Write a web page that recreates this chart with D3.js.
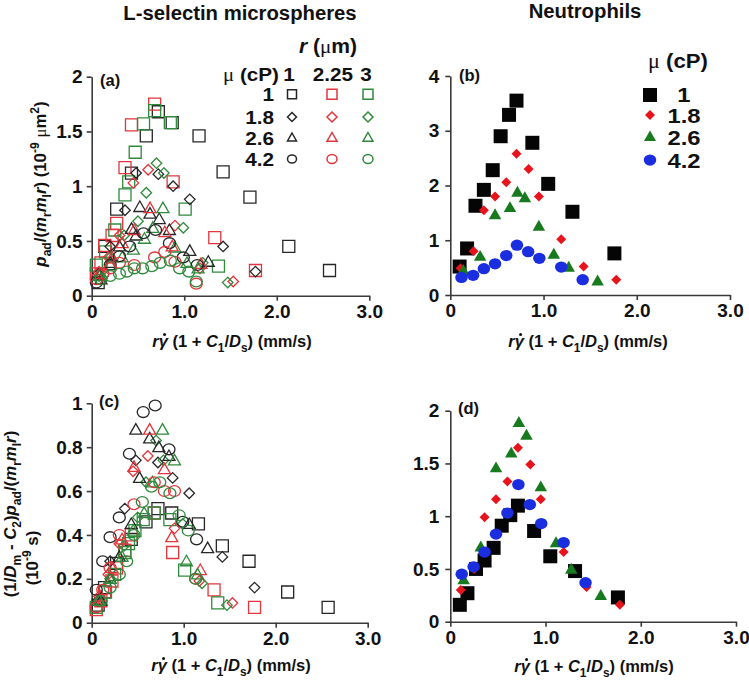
<!DOCTYPE html>
<html><head><meta charset="utf-8">
<script src="https://cdn.jsdelivr.net/npm/d3@7"></script>
<style>
body{margin:0;background:#fff}
text{font-family:"Liberation Sans",Arial,sans-serif;font-weight:bold;fill:#111}
</style>
</head><body>
<svg id="chart" width="749" height="680"></svg>
<script>
// ---------------- DATA ----------------
const xTicks = [0, 1, 2, 3];
const xTickLabels = ["0", "1.0", "2.0", "3.0"];
const ticksA = [0, 0.5, 1, 1.5, 2];
const ticksB = [0, 1, 2, 3, 4];
const ticksC = [0, 0.2, 0.4, 0.6, 0.8, 1];
const ticksD = [0, 0.5, 1, 1.5, 2];
const muLabels = ["1", "1.8", "2.6", "4.2"];
const rLabels = ["1", "2.25", "3"];

// L-selectin microspheres: [x, y in (a), y in (c)]
const ms_mu1_r1 = [[0.07,0.12,0.08],[0.14,0.45,0.16],[0.27,0.79,0.27],[0.43,1.12,0.38],[0.59,1.46,0.46],[0.72,1.68,0.52],[0.87,1.58,0.50],[1.16,1.46,0.45],[1.42,1.13,0.35],[1.71,0.90,0.28],[2.13,0.45,0.14],[2.57,0.23,0.07]];
const ms_mu1_r2 = [[0.05,0.20,0.06],[0.10,0.30,0.10],[0.14,0.46,0.14],[0.22,0.55,0.19],[0.27,0.66,0.25],[0.36,1.17,0.33],[0.43,1.56,0.40],[0.68,1.75,0.50],[0.88,1.04,0.32],[1.33,0.53,0.15],[1.77,0.23,0.07]];
const ms_mu1_r3 = [[0.05,0.28,0.07],[0.15,0.40,0.14],[0.25,0.60,0.22],[0.36,0.92,0.32],[0.40,1.04,0.36],[0.47,1.31,0.42],[0.56,1.57,0.47],[0.68,1.69,0.50],[0.85,1.58,0.47],[1.01,0.79,0.24],[1.37,0.27,0.09]];
const ms_mu18_r1 = [[0.07,0.20,0.10],[0.20,0.45,0.28],[0.36,0.78,0.52],[0.48,1.12,0.74],[0.72,1.11,0.73],[0.88,1.00,0.66],[1.06,0.88,0.59],[1.42,0.45,0.30],[1.77,0.22,0.16]];
const ms_mu18_r2 = [[0.08,0.22,0.12],[0.18,0.35,0.22],[0.30,0.55,0.36],[0.45,1.03,0.69],[0.61,1.15,0.76],[0.90,0.64,0.43],[1.17,0.25,0.19],[1.53,0.13,0.09]];
const ms_mu18_r3 = [[0.08,0.18,0.10],[0.20,0.35,0.20],[0.35,0.55,0.35],[0.50,0.68,0.48],[0.59,0.94,0.64],[0.70,1.21,0.83],[0.78,1.12,0.74],[0.99,0.62,0.45],[1.20,0.30,0.18],[1.47,0.12,0.08]];
const ms_mu26_r1 = [[0.10,0.15,0.10],[0.20,0.30,0.20],[0.30,0.45,0.30],[0.43,0.61,0.45],[0.52,0.81,0.66],[0.48,0.55,0.88],[0.63,0.75,0.84],[0.73,0.70,0.80],[0.84,0.60,0.76],[1.06,0.41,0.45],[1.26,0.31,0.34]];
const ms_mu26_r2 = [[0.10,0.20,0.12],[0.22,0.35,0.25],[0.33,0.48,0.38],[0.46,0.60,0.71],[0.63,0.80,0.88],[0.79,0.58,0.70],[0.87,0.45,0.39],[1.18,0.29,0.24]];
const ms_mu26_r3 = [[0.08,0.18,0.10],[0.20,0.28,0.20],[0.33,0.35,0.30],[0.45,0.42,0.42],[0.57,0.52,0.50],[0.66,0.62,0.64],[0.77,0.80,0.88],[0.90,0.44,0.74],[1.03,0.30,0.28],[1.15,0.25,0.22]];
const ms_mu42_r1 = [[0.05,0.12,0.15],[0.12,0.20,0.28],[0.20,0.28,0.39],[0.30,0.36,0.48],[0.41,0.45,0.77],[0.56,0.57,0.96],[0.69,0.60,0.99],[0.84,0.48,0.79],[0.99,0.35,0.46],[1.14,0.28,0.38]];
const ms_mu42_r2 = [[0.05,0.15,0.07],[0.12,0.20,0.15],[0.20,0.25,0.25],[0.30,0.30,0.40],[0.46,0.28,0.54],[0.68,0.35,0.64],[0.79,0.40,0.60],[0.90,0.31,0.60],[1.13,0.11,0.20]];
const ms_mu42_r3 = [[0.10,0.15,0.10],[0.20,0.18,0.16],[0.30,0.20,0.22],[0.38,0.22,0.28],[0.46,0.25,0.40],[0.55,0.25,0.55],[0.65,0.27,0.62],[0.74,0.30,0.64],[0.85,0.32,0.59],[0.95,0.25,0.49],[1.05,0.22,0.42],[1.13,0.13,0.20]];

// Neutrophils: [x, y in (b), y in (d)]
const nt_mu1  = [[0.10,0.52,0.16],[0.18,0.85,0.27],[0.27,1.63,0.50],[0.36,1.92,0.58],[0.455,2.28,0.70],[0.54,2.90,0.91],[0.63,3.29,1.01],[0.71,3.55,1.10],[0.88,2.78,0.86],[1.05,2.03,0.62],[1.31,1.52,0.48],[1.76,0.76,0.23]];
const nt_mu18 = [[0.11,0.49,0.30],[0.25,0.80,0.50],[0.36,1.55,0.99],[0.48,1.80,1.16],[0.60,2.06,1.33],[0.71,2.58,1.65],[0.84,2.30,1.49],[0.95,1.80,1.16],[1.19,1.02,0.66],[1.43,0.52,0.33],[1.78,0.28,0.16]];
const nt_mu26 = [[0.14,0.45,0.40],[0.32,0.71,0.71],[0.48,1.47,1.46],[0.64,1.60,1.60],[0.72,1.88,1.89],[0.80,1.78,1.77],[0.95,1.26,1.28],[1.11,0.75,0.75],[1.27,0.51,0.50],[1.58,0.26,0.25]];
const nt_mu42 = [[0.12,0.32,0.45],[0.245,0.36,0.52],[0.36,0.48,0.66],[0.48,0.57,0.83],[0.60,0.72,1.03],[0.715,0.91,1.30],[0.835,0.79,1.11],[0.955,0.67,0.93],[1.19,0.51,0.75],[1.42,0.28,0.37]];

// ---------------- STYLE ----------------
const msColors = ["#262626", "#e2353c", "#2f8a3c"];
const ntColors = ["#050505", "#e8141c", "#177a1e", "#1a2ee0"];
const shapes = ["square", "diamond", "triangle", "circle"];

const msSeries = [
  {d: ms_mu1_r1, s: 0, c: 0}, {d: ms_mu1_r2, s: 0, c: 1}, {d: ms_mu1_r3, s: 0, c: 2},
  {d: ms_mu18_r1, s: 1, c: 0}, {d: ms_mu18_r2, s: 1, c: 1}, {d: ms_mu18_r3, s: 1, c: 2},
  {d: ms_mu26_r1, s: 2, c: 0}, {d: ms_mu26_r2, s: 2, c: 1}, {d: ms_mu26_r3, s: 2, c: 2},
  {d: ms_mu42_r1, s: 3, c: 0}, {d: ms_mu42_r2, s: 3, c: 1}, {d: ms_mu42_r3, s: 3, c: 2}
];
const ntSeries = [{d: nt_mu1, s: 0}, {d: nt_mu18, s: 1}, {d: nt_mu26, s: 2}, {d: nt_mu42, s: 3}];

const svg = d3.select("#chart");

function shapePath(shape, size) {
  const h = size / 2;
  if (shape === "square") return `M${-h},${-h}H${h}V${h}H${-h}Z`;
  if (shape === "diamond") return `M0,${-h}L${h},0L0,${h}L${-h},0Z`;
  if (shape === "triangle") { const t = size * 0.5; return `M0,${-t}L${h},${t*0.75}L${-h},${t*0.75}Z`; }
  return null;
}
function drawMarker(g, shape, x, y, size, fill, stroke, sw) {
  if (shape === "circle") {
    g.append("ellipse").attr("cx", x).attr("cy", y).attr("rx", size / 2).attr("ry", size / 2 * 0.9)
      .attr("fill", fill).attr("stroke", stroke).attr("stroke-width", sw);
  } else {
    g.append("path").attr("transform", `translate(${x},${y})`).attr("d", shapePath(shape, size))
      .attr("fill", fill).attr("stroke", stroke).attr("stroke-width", sw);
  }
}

// rich text: segments [string, kinds]
function rich(sel, segs, fs) {
  let shift = 0;
  segs.forEach(([str, kind]) => {
    const t = sel.append("tspan").text(str);
    let target = 0, size = fs;
    if (kind.includes("sub")) { target = fs * 0.3; size = fs * 0.72; }
    if (kind.includes("sup")) { target = -fs * 0.4; size = fs * 0.72; }
    if (target - shift !== 0) t.attr("dy", target - shift);
    shift = target;
    t.attr("font-size", size);
    if (kind.includes("i")) t.attr("font-style", "italic");
    if (kind.includes("n")) t.attr("font-weight", "normal");
    if (kind.includes("f")) t.attr("font-family", "'Liberation Serif', serif");
  });
}
// widen a text horizontally (reference lettering is slightly wide)
function widen(sel, k) {
  const L = sel.node().getComputedTextLength();
  sel.attr("textLength", L * k).attr("lengthAdjust", "spacingAndGlyphs");
  return sel;
}

const xTitle = [["r","i"],["γ","i"],[" (1 + ",""],["C","i"],["1","sub"],["/",""],["D","i"],["s","sub"],[") (mm/s)",""]];
const xTitleSize = 16.5;

function panel(cfg) {
  const x = d3.scaleLinear().domain([0, 3]).range(cfg.xr);
  const y = d3.scaleLinear().domain([0, cfg.ymax]).range(cfg.yr);
  const g = svg.append("g");
  const ax = g.append("g").attr("transform", `translate(0,${cfg.yr[0]})`)
    .call(d3.axisBottom(x).tickValues(xTicks).tickFormat((d, i) => xTickLabels[i]).tickSize(5).tickPadding(4).tickSizeOuter(0));
  const ay = g.append("g").attr("transform", `translate(${cfg.xr[0]},0)`)
    .call(d3.axisLeft(y).tickValues(cfg.ticks).tickFormat(d => String(d)).tickSize(5).tickPadding(cfg.pad).tickSizeOuter(0));
  [ax, ay].forEach(a => {
    a.selectAll("path,line").attr("stroke", "#3a3a3a").attr("stroke-width", 1.6);
    a.selectAll("text").attr("font-size", 19).attr("font-family", "'Liberation Sans',Arial,sans-serif").attr("font-weight", "bold").attr("fill", "#111");
  });
  g.append("text").attr("x", cfg.lab[0]).attr("y", cfg.lab[1]).attr("font-family", "'Liberation Serif',serif")
    .attr("font-size", 16.5).text(cfg.label);
  const xt = g.append("text").attr("x", cfg.xtitle[0]).attr("y", cfg.xtitle[1]).attr("text-anchor", "middle");
  rich(xt, xTitle, xTitleSize);
  // overdot of gamma (shear-rate symbol), placed from the glyph's measured extent
  const e = xt.node().getExtentOfChar(1);
  g.append("circle").attr("cx", e.x + e.width * 0.64).attr("cy", cfg.xtitle[1] - 0.76 * xTitleSize)
    .attr("r", 1.5).attr("fill", "#111");
  return {x, y, g};
}

// Panel (a)
const A = panel({xr: [91.7, 369.3], yr: [295.7, 76.7], ymax: 2, ticks: ticksA, pad: 4, lab: [100, 86], label: "(a)", xtitle: [232, 347]});
// Panel (b)
const B = panel({xr: [450.3, 730], yr: [295, 76], ymax: 4, ticks: ticksB, pad: 6, lab: [459, 81], label: "(b)", xtitle: [588, 347]});
// Panel (c)
const C = panel({xr: [91.7, 367.7], yr: [622.7, 403.3], ymax: 1, ticks: ticksC, pad: 4, lab: [99, 407], label: "(c)", xtitle: [231, 671]});
// Panel (d)
const D = panel({xr: [450.3, 736], yr: [621.7, 410.7], ymax: 2, ticks: ticksD, pad: 6, lab: [458, 414], label: "(d)", xtitle: [594, 672]});

// markers (a) and (c)
const msSize = [12, 10.5, 12, 12];
msSeries.forEach(sr => {
  sr.d.forEach(p => {
    drawMarker(A.g, shapes[sr.s], A.x(p[0]), A.y(p[1]), msSize[sr.s], "none", msColors[sr.c], 1.3);
    drawMarker(C.g, shapes[sr.s], C.x(p[0]), C.y(p[2]), msSize[sr.s], "none", msColors[sr.c], 1.3);
  });
});
const ntSize = [14, 10, 12.5, 12.5];
ntSeries.forEach(sr => {
  sr.d.forEach(p => {
    drawMarker(B.g, shapes[sr.s], B.x(p[0]), B.y(p[1]), ntSize[sr.s], ntColors[sr.s], "none", 0);
    drawMarker(D.g, shapes[sr.s], D.x(p[0]), D.y(p[2]), ntSize[sr.s], ntColors[sr.s], "none", 0);
  });
});

// Titles
svg.append("text").attr("x", 240).attr("y", 20).attr("text-anchor", "middle").attr("font-size", 20.3).text("L-selectin microspheres");
svg.append("text").attr("x", 585).attr("y", 18).attr("text-anchor", "middle").attr("font-size", 20.3).text("Neutrophils");

// Y titles
const ya = svg.append("text").attr("transform", "translate(46,184) rotate(-90)").attr("text-anchor", "middle");
rich(ya, [["p","i"],["ad","sub"],["/(",""],["m","i"],["r","sub"],["m","i"],["l","sub"],["r","i"],[") (10",""],["-9","sup"],[" ",""],["μ","nf"],["m",""],["2","sup"],[")",""]], 16.8);
const yc1 = svg.append("text").attr("transform", "translate(16,514) rotate(-90)").attr("text-anchor", "middle");
rich(yc1, [["(1/",""],["D","i"],["m","sub"],[" - ",""],["C","i"],["2","sub"],[")",""],["p","i"],["ad","sub"],["/(",""],["m","i"],["r","sub"],["m","i"],["l","sub"],["r","i"],[")",""]], 16.8);
const yc2 = svg.append("text").attr("transform", "translate(38,558) rotate(-90)").attr("text-anchor", "middle");
rich(yc2, [["(10",""],["-9","sup"],[" s)",""]], 16.8);

// Legend (a)
const LA = svg.append("g");
const fsA = 18;
const rt = LA.append("text").attr("x", 299).attr("y", 53);
rich(rt, [["r","i"],[" (",""],["μ","nf"],["m)",""]], 19.5);
widen(rt, 1.08);
const mt = LA.append("text").attr("x", 279).attr("y", 81).attr("text-anchor", "end");
rich(mt, [["μ","nf"],[" (cP)",""]], fsA);
widen(mt, 1.15);
const colX = [289, 333, 366];
const symX = [292, 332, 368];
rLabels.forEach((r, i) => widen(LA.append("text").attr("x", colX[i]).attr("y", 81).attr("text-anchor", "middle").attr("font-size", fsA).text(r), 1.15));
const rowY = [94.3, 117, 137.5, 159];
const rowBaseA = [101.3, 124, 144.6, 166.2];
muLabels.forEach((m, j) => {
  widen(LA.append("text").attr("x", 274).attr("y", rowBaseA[j]).attr("text-anchor", "end").attr("font-size", fsA).text(m), 1.15);
  msColors.forEach((c, i) => drawMarker(LA, shapes[j], symX[i], rowY[j], i === 0 ? 9 : 10, "none", c, 1.5));
});

// Legend (b)
const LB = svg.append("g");
const fsB = 19.5;
const mt2 = LB.append("text").attr("x", 648).attr("y", 68);
rich(mt2, [["μ","nf"],[" (cP)",""]], 20.5);
widen(mt2, 1.08);
const rowYB = [95, 115, 136.5, 160];
const rowBaseB = [101.5, 123.4, 145.3, 167.8];
const legSize = [14, 10, 12, 12.5];
muLabels.forEach((m, j) => {
  widen(LB.append("text").attr("x", 684).attr("y", rowBaseB[j]).attr("text-anchor", "middle").attr("font-size", fsB).text(m), 1.22);
  drawMarker(LB, shapes[j], 650, rowYB[j], legSize[j], ntColors[j], "none", 0);
});
</script>
</body></html>
